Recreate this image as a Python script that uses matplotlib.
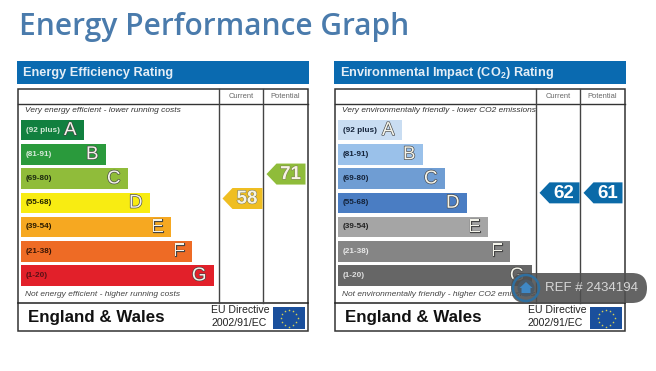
import numpy as np
import matplotlib
matplotlib.use("Agg")
import matplotlib.pyplot as plt
from matplotlib.patches import Polygon, Rectangle, FancyBboxPatch, Circle
import matplotlib.patheffects as pe

plt.rcParams['font.family'] = ['Liberation Sans', 'DejaVu Sans']
plt.rcParams['mathtext.fontset'] = 'custom'
plt.rcParams['mathtext.bf'] = 'Liberation Sans:bold'
plt.rcParams['mathtext.rm'] = 'Liberation Sans'

# ---- data ----
bands = ["(92 plus)", "(81-91)", "(69-80)", "(55-68)", "(39-54)", "(21-38)", "(1-20)"]
letters = ["A", "B", "C", "D", "E", "F", "G"]
band_lengths_left = [63, 85, 107, 129, 150, 171, 193]
band_lengths_right = [64, 85, 107, 129, 150, 172, 194]
colors_left = ["#11803f", "#2a9a3c", "#90bc3a", "#f8ec12", "#f6a821", "#ee6b25", "#e2202a"]
colors_right = ["#c9ddf2", "#9ac1ea", "#6f9dd3", "#4a7dc3", "#a5a5a5", "#858585", "#666666"]
label_colors_left = ["#d5ead8", "#d5ead8", "#1d2a10", "#222200", "#2a1a00", "#3a1505", "#5a1015"]
label_colors_right = ["#14233a", "#14233a", "#14233a", "#14233a", "#222222", "#e8e8e8", "#e0e0e0"]
ratings_left = [58, 71]
ratings_right = [62, 61]
anchors_left = [58, 71]
anchors_right = [61, 61]
pointer_colors_left = ["#efbe22", "#8fbc3a"]
pointer_colors_right = ["#0b6aa8", "#0b6aa8"]

W, H = 656, 371
fig = plt.figure(figsize=(W / 100, H / 100), dpi=100, facecolor="white")
ax = fig.add_axes([0, 0, 1, 1])
ax.set_xlim(0, W)
ax.set_ylim(H, 0)
ax.axis("off")

ax.text(19, 35.5, "Energy Performance Graph", family="Open Sans", fontsize=21.5, fontweight=600,
        color="#4a7bac", va="baseline", ha="left")


def rating_y(a):
    return 198.5 - (a - 58) * 1.88


def eu_flag(x0):
    ax.add_patch(Rectangle((x0, 307), 32, 22, fc="#1a4f9c", ec="none", zorder=3))
    t = np.arange(12) * np.pi / 6
    ax.scatter(x0 + 16 + 8.5 * np.cos(t), 318 + 8.5 * np.sin(t), s=1.6, c="#e8dc50",
               marker="*", linewidths=0.2, zorder=4)


def panel(x0, title, top, bottom, lengths, colors, label_colors, ratings, anchors, pcolors):
    # x0 is the left edge of the frame
    ax.add_patch(Rectangle((x0 - 1, 61), 292, 23, fc="#0a6ab0", ec="none"))
    ax.text(x0 + 5, 73, title, color="#e4eef6", fontsize=9.15, fontweight="bold", va="center")
    ax.add_patch(Rectangle((x0, 89), 290, 242, fc="white", ec="#333333", lw=1.1, zorder=1))
    c1, c2 = x0 + 201, x0 + 245
    ax.plot([x0, x0 + 290], [104, 104], color="#333333", lw=1.0, zorder=2)
    ax.plot([x0, x0 + 290], [303, 303], color="#222222", lw=1.1, zorder=2)
    ax.plot([c1, c1], [89, 303], color="#444444", lw=1.0, zorder=2)
    ax.plot([c2, c2], [89, 303], color="#444444", lw=1.0, zorder=2)
    ax.text((c1 + c2) / 2, 96.5, "Current", color="#666666", fontsize=5.4, ha="center", va="center")
    ax.text((c2 + x0 + 290) / 2, 97, "Potential", color="#666666", fontsize=5.4, ha="center", va="center")
    ax.text(x0 + 7, 111, top, fontsize=6.05, style="italic", color="#333333", va="center", zorder=3)
    ax.text(x0 + 7, 295, bottom, fontsize=6.05, style="italic", color="#444444", va="center", zorder=3)

    ys = 130 + np.arange(len(lengths)) * 24.25
    ax.barh(ys, lengths, left=x0 + 3, height=20.5, color=colors, zorder=3)
    for y, ln, lab, let, lc in zip(ys, lengths, bands, letters, label_colors):
        ax.text(x0 + 8, y, lab, fontsize=5.9, fontweight="bold", color=lc, va="center", zorder=4)
        ax.text(x0 + 3 + ln - 7.5, y + 0.5, let, fontsize=13.5, ha="right", va="center", color="#f4f4ea",
                zorder=4, path_effects=[pe.withStroke(linewidth=0.9, foreground="#444444")])

    for i, (r, a, pc) in enumerate(zip(ratings, anchors, pcolors)):
        yc = rating_y(a)
        right = (c2 if i == 0 else x0 + 288) - 0.5
        left = (c1 if i == 0 else c2) + 3.5
        pts = [(left, yc), (left + 10, yc - 10.5), (right, yc - 10.5), (right, yc + 10.5), (left + 10, yc + 10.5)]
        ax.add_patch(Polygon(pts, closed=True, fc=pc, ec="none", zorder=3))
        light = pc != "#0b6aa8"
        ax.text((left + 9 + right) / 2, yc + 0.5, str(r), fontsize=13.5, fontweight="bold",
                color="#f7f4e4" if light else "white", ha="center", va="center", zorder=4,
                path_effects=[pe.withStroke(linewidth=0.7, foreground="#777755")] if light else None)

    ax.text(x0 + 10, 317.5, "England & Wales", fontsize=12.2, fontweight="bold", color="#111111",
            va="center", zorder=3)
    ax.text(x0 + 193, 310, "EU Directive", fontsize=7.6, color="#222222", va="center", zorder=3)
    ax.text(x0 + 193, 323, "2002/91/EC", fontsize=7.6, color="#222222", va="center", zorder=3)
    eu_flag(x0 + 255)


panel(18, "Energy Efficiency Rating",
      "Very energy efficient - lower running costs",
      "Not energy efficient - higher running costs",
      band_lengths_left, colors_left, label_colors_left, ratings_left, anchors_left, pointer_colors_left)
panel(335, r"Environmental Impact (CO$\mathbf{_2}$) Rating",
      "Very environmentally friendly - lower CO2 emissions",
      "Not environmentally friendly - higher CO2 emissions",
      band_lengths_right, colors_right, label_colors_right, ratings_right, anchors_right, pointer_colors_right)

# watermark
ax.add_patch(FancyBboxPatch((511, 273), 136, 30, boxstyle="round,pad=0,rounding_size=15", mutation_aspect=1,
                            fc="#4f4f4f", ec="none", alpha=0.88, zorder=6))
ax.add_patch(Circle((526, 288), 13, fc="none", ec="#2f6f9f", lw=1.8, zorder=7))
ax.add_patch(Circle((526, 288), 8.5, fc="#4a5a68", ec="none", zorder=7))
ax.add_patch(Polygon([(519.5, 288), (526, 282), (532.5, 288), (530.5, 288), (530.5, 293), (521.5, 293), (521.5, 288)],
                     closed=True, fc="#3f88c5", ec="none", zorder=8))
ax.text(545, 288, "REF # 2434194", fontsize=9.5, color="#d6d6d6", va="center", zorder=8)

fig.savefig("out.png", dpi=100, facecolor="white")
